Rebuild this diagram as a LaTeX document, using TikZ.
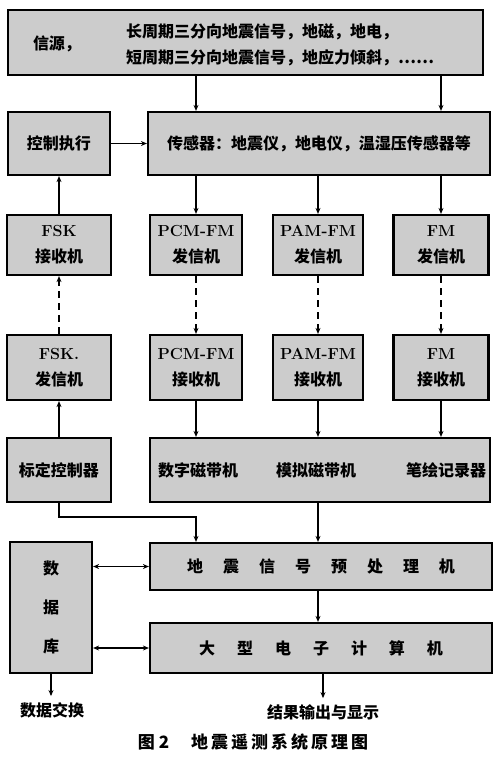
\documentclass[tikz,border=0pt]{standalone}
\usepackage{fontspec}
\newfontfamily\cjk{Noto Sans CJK SC}
\usetikzlibrary{arrows.meta,calc}
\newcommand\gapA{\hspace{20pt}}
\newcommand\gapB{\hspace{22pt}}
\begin{document}
\begin{tikzpicture}[x=1pt,y=-1pt,
  box/.style={draw=black, line width=2.2pt, fill=black!20, inner sep=0pt, align=center,
    font=\cjk\bfseries\fontsize{16pt}{26pt}\selectfont},
  lbl/.style={inner sep=0pt, font=\cjk\bfseries\fontsize{16pt}{26pt}\selectfont},
  conn/.style={line width=1.1pt, -{Stealth[length=6pt,width=5pt]}},
  dconn/.style={conn, dash pattern=on 7pt off 5pt},
  both/.style={line width=1.1pt, {Stealth[length=6pt,width=5pt]}-{Stealth[length=6pt,width=5pt]}}
]
\useasboundingbox[fill=white] (0,0) rectangle (500,764);

% row 1
\node[box, minimum width=475pt, minimum height=65pt] (src) at (245.5,42.5) {};
\node[lbl] (srcl) at (57,44) {信源，};
\node[lbl, anchor=west, align=left] (srct) at (126,45) {长周期三分向地震信号，地磁，地电，\\短周期三分向地震信号，地应力倾斜，……};

% row 2
\node[box, minimum width=102pt, minimum height=63pt] (ctrl) at (59,143.5) {控制执行};
\node[box, minimum width=342pt, minimum height=63pt] (sens) at (319,143.5) {传感器：地震仪，地电仪，温湿压传感器等};

% row 3
\node[box, minimum width=104pt, minimum height=60pt] (fskr) at (59,245) {{\rmfamily\bfseries FSK}\\接收机};
\node[box, minimum width=92pt, minimum height=60pt] (pcmt) at (196,245) {{\rmfamily\bfseries PCM-FM}\\发信机};
\node[box, minimum width=90pt, minimum height=60pt] (pamt) at (318,245) {{\rmfamily\bfseries PAM-FM}\\发信机};
\node[box, minimum width=95pt, minimum height=60pt] (fmt) at (441,245) {{\rmfamily\bfseries FM}\\发信机};

% row 4
\node[box, minimum width=104pt, minimum height=65pt] (fskt) at (59,367.5) {{\rmfamily\bfseries FSK.}\\发信机};
\node[box, minimum width=92pt, minimum height=65pt] (pcmr) at (196,367.5) {{\rmfamily\bfseries PCM-FM}\\接收机};
\node[box, minimum width=90pt, minimum height=65pt] (pamr) at (318,367.5) {{\rmfamily\bfseries PAM-FM}\\接收机};
\node[box, minimum width=95pt, minimum height=65pt] (fmr) at (441,367.5) {{\rmfamily\bfseries FM}\\接收机};

% row 5
\node[box, minimum width=104pt, minimum height=64pt] (calib) at (59,470) {标定控制器};
\node[box, minimum width=340pt, minimum height=64pt] (rec) at (320,470) {};
\node[lbl] (rec1) at (198,470) {数字磁带机};
\node[lbl] (rec2) at (316,470) {模拟磁带机};
\node[lbl] (rec3) at (446,470) {笔绘记录器};

% row 6
\node[box, minimum width=82pt, minimum height=131pt, font=\cjk\bfseries\fontsize{16pt}{39pt}\selectfont] (db) at (51,607.5) {数\\据\\库};
\node[box, minimum width=342pt, minimum height=47pt] (pre) at (321,566.5) {地\gapA 震\gapA 信\gapA 号\gapA 预\gapA 处\gapA 理\gapA 机};
\node[box, minimum width=342pt, minimum height=50pt] (comp) at (321,648) {大\gapB 型\gapB 电\gapB 子\gapB 计\gapB 算\gapB 机};

% bottom labels
\node[lbl] (dx) at (52,710) {数据交换};
\node[lbl] (out) at (323,712) {结果输出与显示};
\node[lbl, font=\cjk\bfseries\fontsize{17pt}{20pt}\selectfont] (cap) at (253,742) {图 2\hspace{22pt}地\hspace{3pt}震\hspace{3pt}遥\hspace{3pt}测\hspace{3pt}系\hspace{3pt}统\hspace{3pt}原\hspace{3pt}理\hspace{3pt}图};

% connectors
\draw[conn] (pcmt.north |- src.south) -- (pcmt.north |- sens.north);
\draw[conn] (fmt.north |- src.south) -- (fmt.north |- sens.north);
\draw[conn] (ctrl.east) -- (sens.west);
\draw[conn] (fskr.north) -- (ctrl.south);
\draw[conn] (pcmt.north |- sens.south) -- (pcmt.north);
\draw[conn] (pamt.north |- sens.south) -- (pamt.north);
\draw[conn] (fmt.north |- sens.south) -- (fmt.north);

\draw[dconn] (fskt.north) -- (fskr.south);
\draw[dconn] (pcmt.south) -- (pcmr.north);
\draw[dconn] (pamt.south) -- (pamr.north);
\draw[dconn] (fmt.south) -- (fmr.north);

\draw[conn] (pcmr.south) -- (pcmr.south |- rec.north);
\draw[conn] (pamr.south) -- (pamr.south |- rec.north);
\draw[conn] (fmr.south) -- (fmr.south |- rec.north);
\draw[conn] (calib.north) -- (fskt.south);

\coordinate (bend) at (196,517);
\draw[conn] (calib.south) |- (bend) -- (bend |- pre.north);
\draw[conn] (pamr.south |- rec.south) -- (pamr.south |- pre.north);
\draw[conn] (pamr.south |- pre.south) -- (pamr.south |- comp.north);

\draw[both] (db.east |- pre.west) -- (pre.west);
\draw[both] (db.east |- comp.west) -- (comp.west);

\draw[conn, shorten >=6pt] (db.south) -- (db.south |- dx.north);
\draw[conn, shorten >=6pt] (comp.south -| out.north) -- (out.north);
\end{tikzpicture}
\end{document}
